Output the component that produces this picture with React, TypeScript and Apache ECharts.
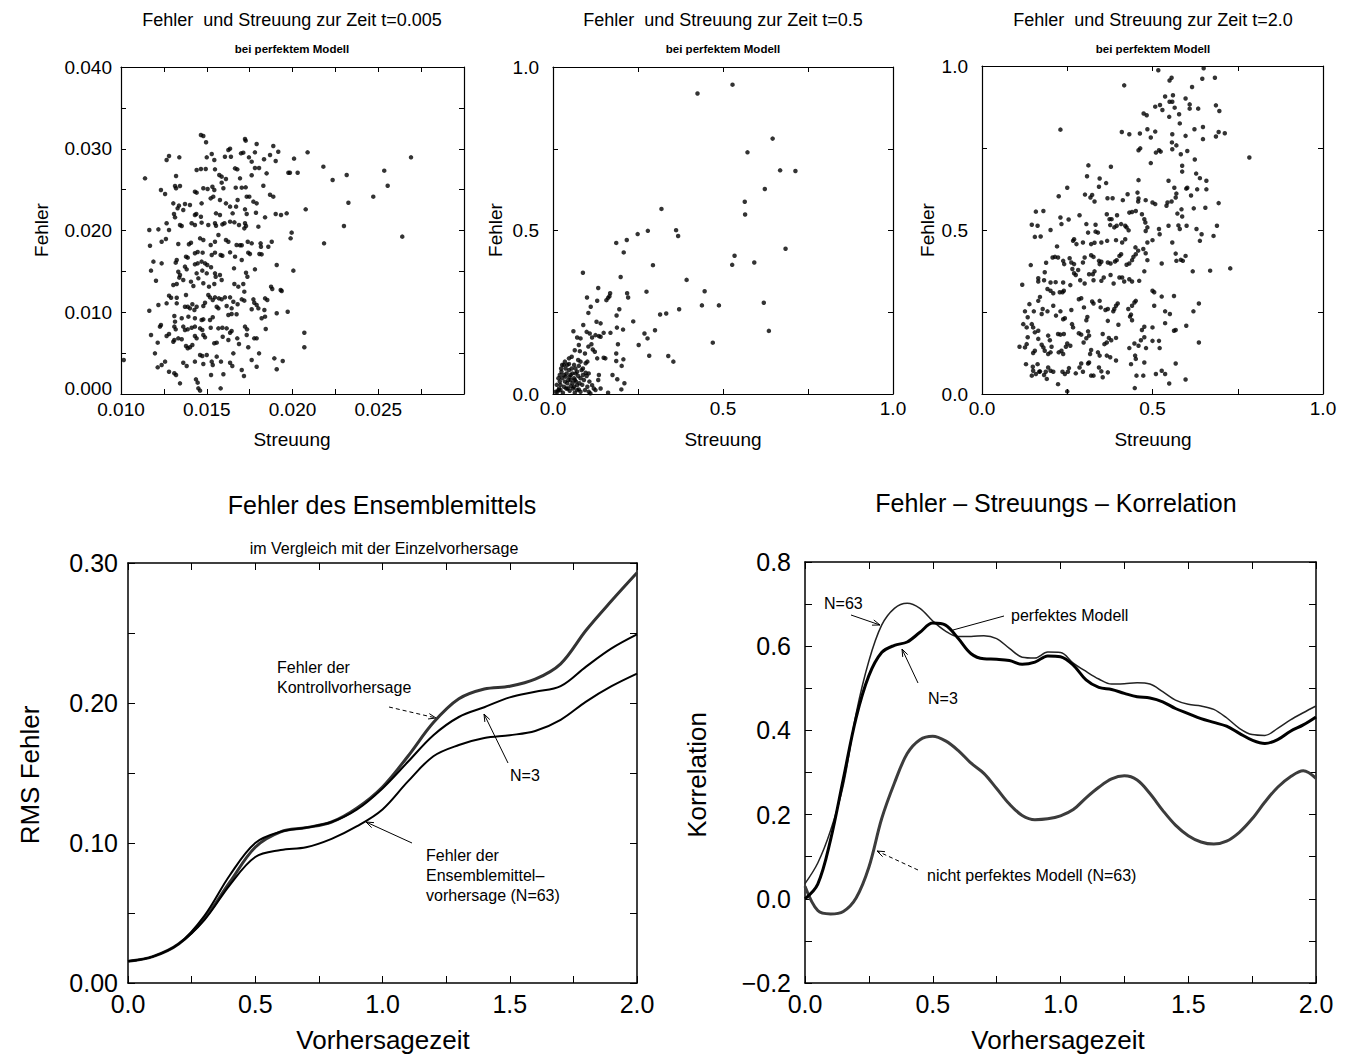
import React, { useEffect, useRef } from "react";
import * as echarts from "echarts";

// ---------- Data: scatter panels (Streuung, Fehler) ----------
const P1_POINTS: number[][] = [
  [0.01466,0.03168],[0.0148,0.03156],[0.01496,0.03079],[0.01723,0.03119],[0.01727,0.03099],[0.01791,0.03058],[0.01888,0.03034],
  [0.01626,0.02985],[0.01636,0.03001],[0.01917,0.02964],[0.02088,0.02956],[0.01529,0.02936],[0.015,0.02895],[0.017,0.02944],
  [0.01713,0.02952],[0.01781,0.02956],[0.01606,0.02903],[0.01746,0.02895],[0.01869,0.02924],[0.02691,0.02895],[0.0128,0.02911],
  [0.01266,0.02862],[0.0134,0.02895],[0.01544,0.02862],[0.01641,0.02903],[0.01834,0.02871],[0.01902,0.0285],[0.02009,0.02879],
  [0.01762,0.02842],[0.0218,0.02781],[0.01976,0.02707],[0.01985,0.02707],[0.0203,0.02707],[0.02535,0.02732],[0.01441,0.0274],
  [0.01466,0.02752],[0.01494,0.02752],[0.01548,0.02748],[0.01665,0.0276],[0.01678,0.02748],[0.01781,0.02765],[0.01805,0.02765],
  [0.01849,0.02699],[0.0114,0.02638],[0.01321,0.02667],[0.01573,0.02679],[0.01587,0.02659],[0.01612,0.0263],[0.01694,0.02638],
  [0.01762,0.02675],[0.02316,0.02679],[0.02234,0.02618],[0.02555,0.02548],[0.01315,0.02544],[0.01344,0.02544],[0.01321,0.02516],
  [0.01587,0.02585],[0.01533,0.02536],[0.01544,0.02495],[0.01431,0.02475],[0.0148,0.02516],[0.01505,0.02508],[0.01233,0.02495],
  [0.01257,0.02446],[0.01597,0.02516],[0.01669,0.02524],[0.01704,0.02524],[0.01727,0.02528],[0.0183,0.02548],[0.01869,0.02438],
  [0.01888,0.02414],[0.02471,0.02414],[0.02326,0.0234],[0.02077,0.02259],[0.01305,0.02332],[0.0133,0.02271],[0.01363,0.02251],
  [0.01373,0.02324],[0.01338,0.02304],[0.01402,0.02312],[0.01441,0.02463],[0.0147,0.02332],[0.01523,0.02393],[0.01538,0.02414],
  [0.01577,0.02373],[0.01612,0.02332],[0.01636,0.02292],[0.01671,0.02292],[0.0168,0.02373],[0.01733,0.02414],[0.01748,0.02414],
  [0.01772,0.02353],[0.01791,0.02332],[0.01554,0.0221],[0.01577,0.0219],[0.01466,0.02169],[0.01431,0.0219],[0.01651,0.0221],
  [0.01723,0.02259],[0.01733,0.02202],[0.01787,0.02218],[0.0184,0.02161],[0.01902,0.02202],[0.01933,0.0219],[0.01966,0.0221],
  [0.01309,0.02202],[0.01315,0.02161],[0.01266,0.02088],[0.01344,0.02067],[0.01354,0.02055],[0.01412,0.02088],[0.01431,0.02067],
  [0.01439,0.02202],[0.0147,0.02096],[0.01509,0.02067],[0.01548,0.02088],[0.01554,0.02059],[0.01591,0.02075],[0.01603,0.02088],
  [0.01636,0.02108],[0.01661,0.021],[0.01688,0.02067],[0.01723,0.02088],[0.01729,0.02055],[0.01719,0.02026],[0.01801,0.02047],
  [0.01995,0.01974],[0.01989,0.01904],[0.023,0.02055],[0.0264,0.01925],[0.02184,0.01843],[0.01165,0.02006],[0.01218,0.02014],
  [0.0128,0.02006],[0.01169,0.01814],[0.01237,0.01863],[0.01262,0.01896],[0.01334,0.01835],[0.01396,0.01831],[0.01408,0.01851],
  [0.01461,0.01904],[0.0148,0.01884],[0.01523,0.01823],[0.01548,0.01863],[0.01568,0.01945],[0.01612,0.01884],[0.01626,0.01863],
  [0.01674,0.01823],[0.01694,0.01819],[0.01704,0.01819],[0.01739,0.01863],[0.01762,0.01843],[0.01814,0.01843],[0.01816,0.01802],
  [0.01859,0.01802],[0.01879,0.01863],[0.01189,0.01619],[0.01175,0.01509],[0.01237,0.01598],[0.01325,0.01639],[0.01319,0.01607],
  [0.01379,0.0168],[0.01389,0.01668],[0.01431,0.01721],[0.01447,0.01737],[0.01476,0.01729],[0.01529,0.017],[0.01548,0.01729],
  [0.01581,0.017],[0.01591,0.01692],[0.01636,0.01733],[0.01665,0.0168],[0.01704,0.01639],[0.01742,0.01729],[0.01752,0.01713],
  [0.01807,0.01713],[0.0182,0.01708],[0.01908,0.01578],[0.02005,0.01509],[0.01781,0.01525],[0.01204,0.01386],[0.01334,0.01496],
  [0.01344,0.01456],[0.0134,0.01423],[0.01363,0.01394],[0.01383,0.01525],[0.01373,0.01558],[0.01431,0.01586],[0.01447,0.01598],
  [0.0147,0.01619],[0.0149,0.01598],[0.01503,0.01578],[0.01441,0.01476],[0.01451,0.01415],[0.01474,0.01509],[0.015,0.01476],
  [0.01525,0.0155],[0.01548,0.01476],[0.01552,0.01435],[0.01577,0.01456],[0.01587,0.01394],[0.01659,0.01537],[0.01729,0.01484],
  [0.01737,0.01435],[0.01305,0.01333],[0.01325,0.01346],[0.01408,0.01374],[0.01422,0.01321],[0.0148,0.01354],[0.01513,0.01313],
  [0.01544,0.01346],[0.01661,0.01346],[0.01684,0.01313],[0.01713,0.01346],[0.01719,0.01252],[0.01875,0.01313],[0.01882,0.01284],
  [0.01931,0.01272],[0.01937,0.0126],[0.0128,0.01203],[0.01292,0.01178],[0.01325,0.01178],[0.01379,0.01211],[0.01266,0.01109],
  [0.01325,0.01109],[0.01218,0.01089],[0.01509,0.01211],[0.01519,0.01182],[0.01535,0.0115],[0.01548,0.01182],[0.01571,0.0117],
  [0.01587,0.01158],[0.01606,0.01182],[0.01636,0.01182],[0.01655,0.01129],[0.01704,0.01158],[0.01719,0.01142],[0.01772,0.01158],
  [0.01777,0.01117],[0.0184,0.0117],[0.01853,0.0115],[0.01373,0.01068],[0.01389,0.01068],[0.01402,0.01048],[0.01416,0.01097],
  [0.01428,0.01028],[0.01441,0.01068],[0.0148,0.01076],[0.0149,0.01117],[0.01558,0.01068],[0.01568,0.01048],[0.01616,0.01076],
  [0.01645,0.01048],[0.0168,0.01097],[0.01791,0.01089],[0.01801,0.01048],[0.01762,0.01036],[0.01836,0.01028],[0.01165,0.01019],
  [0.01972,0.01007],[0.01908,0.00987],[0.01311,0.00954],[0.01315,0.00885],[0.01354,0.00926],[0.01393,0.00946],[0.01431,0.00926],
  [0.0147,0.00905],[0.0148,0.00913],[0.01519,0.00905],[0.01535,0.00938],[0.01626,0.00966],[0.01645,0.00979],[0.01674,0.00975],
  [0.0182,0.00926],[0.0184,0.00946],[0.01233,0.00844],[0.01227,0.00824],[0.01311,0.00824],[0.01319,0.00791],[0.01363,0.00824],
  [0.01373,0.00783],[0.01389,0.00791],[0.01412,0.00811],[0.01431,0.00824],[0.01461,0.00803],[0.01474,0.00783],[0.01523,0.00811],
  [0.01568,0.00803],[0.01591,0.00811],[0.01616,0.00803],[0.01636,0.0075],[0.01645,0.00771],[0.01723,0.00824],[0.01735,0.00791],
  [0.01844,0.00795],[0.02069,0.0075],[0.01175,0.00722],[0.01214,0.00628],[0.01266,0.00709],[0.0128,0.00734],[0.01305,0.0064],
  [0.01311,0.00661],[0.01334,0.00681],[0.01354,0.00669],[0.01379,0.00587],[0.01389,0.00559],[0.01402,0.00571],[0.01416,0.00599],
  [0.01431,0.00709],[0.01441,0.00681],[0.0148,0.00722],[0.0149,0.00693],[0.01544,0.0062],[0.01558,0.00628],[0.01593,0.00701],
  [0.01626,0.00661],[0.01678,0.00681],[0.01688,0.00612],[0.01733,0.00722],[0.01742,0.00571],[0.01777,0.00681],[0.01791,0.00681],
  [0.02069,0.00571],[0.01198,0.00497],[0.01214,0.00326],[0.01237,0.00355],[0.01257,0.00396],[0.0128,0.00273],[0.01311,0.00253],
  [0.01321,0.00232],[0.01363,0.00383],[0.01383,0.00343],[0.01431,0.00396],[0.01461,0.00477],[0.01474,0.00465],[0.0148,0.00367],
  [0.015,0.00477],[0.01529,0.00396],[0.01535,0.00355],[0.01558,0.00457],[0.01583,0.00396],[0.01597,0.00241],[0.01636,0.00383],
  [0.01649,0.00343],[0.01655,0.00497],[0.01704,0.00294],[0.01717,0.0022],[0.01762,0.00416],[0.01791,0.00334],[0.01805,0.00497],
  [0.01894,0.00436],[0.01908,0.00302],[0.01943,0.00404],[0.01016,0.00416],[0.01344,0.0013],[0.01437,0.00179],[0.01447,0.00139],
  [0.01451,0.00069],[0.01461,0.00041],[0.01525,0.00232],[0.01581,0.00069]
];

const P2_POINTS: number[][] = [
  [0.528,0.946],[0.425,0.919],[0.646,0.781],[0.572,0.739],[0.668,0.684],[0.713,0.682],[0.623,0.627],[0.564,0.588],[0.565,0.549],
  [0.319,0.566],[0.362,0.501],[0.368,0.483],[0.279,0.499],[0.249,0.489],[0.186,0.462],[0.217,0.471],[0.208,0.433],[0.684,0.444],
  [0.534,0.423],[0.527,0.395],[0.592,0.402],[0.294,0.394],[0.088,0.371],[0.199,0.358],[0.393,0.349],[0.133,0.324],[0.168,0.308],
  [0.166,0.299],[0.1,0.295],[0.157,0.287],[0.162,0.294],[0.13,0.285],[0.218,0.308],[0.221,0.295],[0.275,0.313],[0.446,0.314],
  [0.438,0.271],[0.488,0.271],[0.62,0.279],[0.111,0.267],[0.104,0.248],[0.195,0.259],[0.187,0.24],[0.371,0.259],[0.315,0.243],
  [0.333,0.246],[0.236,0.222],[0.128,0.221],[0.14,0.216],[0.089,0.211],[0.188,0.203],[0.206,0.197],[0.3,0.195],[0.269,0.185],
  [0.278,0.17],[0.635,0.193],[0.06,0.192],[0.071,0.173],[0.081,0.17],[0.099,0.19],[0.108,0.185],[0.115,0.173],[0.125,0.18],
  [0.135,0.177],[0.14,0.175],[0.149,0.187],[0.169,0.187],[0.191,0.152],[0.252,0.15],[0.47,0.157],[0.076,0.15],[0.104,0.145],
  [0.113,0.152],[0.064,0.134],[0.079,0.131],[0.094,0.124],[0.117,0.136],[0.123,0.129],[0.149,0.111],[0.154,0.109],[0.186,0.124],
  [0.283,0.117],[0.339,0.116],[0.354,0.099],[0.186,0.101],[0.207,0.106],[0.202,0.086],[0.047,0.109],[0.055,0.114],[0.074,0.104],
  [0.081,0.099],[0.096,0.094],[0.101,0.099],[0.13,0.109],[0.175,0.058],[0.189,0.045],[0.21,0.033],[0.201,0.014],[0.162,0.004],
  [0.135,0.058],[0.133,0.043],[0.107,0.038],[0.115,0.027],[0.12,0.017],[0.125,0.012],[0.14,0.017],[0.088,0.078],[0.096,0.065],
  [0.105,0.063],[0.081,0.048],[0.091,0.043],[0.099,0.055],[0.071,0.027],[0.076,0.014],
  [0.013,0.007],[0.018,0.017],[0.022,0.028],[0.02,0.038],[0.027,0.048],[0.032,0.058],[0.025,0.068],[0.037,0.078],[0.042,0.089],
  [0.035,0.099],[0.047,0.073],[0.052,0.058],[0.045,0.043],[0.057,0.033],[0.062,0.048],[0.066,0.063],[0.039,0.017],[0.049,0.01],
  [0.059,0.017],[0.064,0.004],[0.029,0.004],[0.016,0.012],[0.022,0.012],[0.032,0.022],[0.042,0.033],[0.052,0.024],[0.068,0.038],
  [0.074,0.055],[0.037,0.053],[0.027,0.089],[0.02,0.058],[0.016,0.048],[0.011,0.028],[0.008,0.007],[0.024,0.078],[0.032,0.089],
  [0.04,0.063],[0.047,0.092],[0.055,0.078],[0.062,0.089],[0.066,0.078],[0.071,0.068],[0.076,0.086],[0.084,0.073],[0.088,0.058],
  [0.057,0.063],[0.052,0.043],[0.062,0.022],[0.071,0.012],[0.081,0.007],[0.086,0.028],[0.094,0.012],[0.101,0.022],[0.105,0.007],
  [0.11,0.002],[0.035,0.038],[0.043,0.017],[0.049,0.053],[0.064,0.043],[0.078,0.033]
];

const P3_POINTS: number[][] = [
  [0.517,0.987],[0.65,0.993],[0.556,0.964],[0.55,0.956],[0.417,0.941],[0.646,0.961],[0.683,0.964],[0.616,0.936],[0.537,0.907],
  [0.56,0.911],[0.55,0.891],[0.558,0.891],[0.597,0.901],[0.508,0.876],[0.522,0.881],[0.529,0.866],[0.565,0.873],[0.609,0.883],
  [0.609,0.87],[0.634,0.87],[0.686,0.88],[0.696,0.863],[0.549,0.845],[0.578,0.853],[0.474,0.855],[0.483,0.85],[0.58,0.825],
  [0.23,0.806],[0.41,0.799],[0.432,0.792],[0.463,0.794],[0.485,0.807],[0.495,0.782],[0.508,0.8],[0.558,0.792],[0.597,0.787],
  [0.623,0.807],[0.648,0.814],[0.648,0.777],[0.686,0.785],[0.694,0.799],[0.712,0.795],[0.557,0.767],[0.558,0.746],[0.57,0.758],
  [0.583,0.731],[0.602,0.741],[0.459,0.743],[0.464,0.749],[0.51,0.736],[0.519,0.743],[0.524,0.739],[0.624,0.715],[0.784,0.721],
  [0.495,0.704],[0.587,0.696],[0.587,0.678],[0.628,0.672],[0.639,0.658],[0.658,0.65],[0.312,0.697],[0.378,0.693],[0.308,0.664],
  [0.345,0.657],[0.343,0.632],[0.364,0.643],[0.459,0.652],[0.547,0.65],[0.564,0.629],[0.57,0.611],[0.568,0.599],[0.599,0.626],
  [0.602,0.629],[0.631,0.624],[0.658,0.624],[0.613,0.605],[0.25,0.629],[0.225,0.603],[0.302,0.608],[0.318,0.599],[0.323,0.607],
  [0.33,0.587],[0.368,0.597],[0.383,0.597],[0.413,0.591],[0.427,0.609],[0.456,0.614],[0.459,0.596],[0.458,0.587],[0.48,0.591],
  [0.5,0.584],[0.508,0.579],[0.544,0.584],[0.541,0.574],[0.556,0.587],[0.585,0.563],[0.573,0.55],[0.587,0.541],[0.621,0.566],
  [0.655,0.568],[0.694,0.582],[0.158,0.556],[0.18,0.558],[0.23,0.538],[0.233,0.518],[0.254,0.532],[0.286,0.545],[0.366,0.548],
  [0.374,0.533],[0.376,0.515],[0.396,0.545],[0.408,0.518],[0.432,0.553],[0.44,0.555],[0.451,0.558],[0.469,0.548],[0.476,0.533],
  [0.479,0.523],[0.333,0.516],[0.333,0.495],[0.34,0.492],[0.306,0.518],[0.311,0.492],[0.38,0.533],[0.388,0.508],[0.395,0.513],
  [0.42,0.513],[0.424,0.508],[0.43,0.499],[0.48,0.497],[0.485,0.508],[0.519,0.503],[0.521,0.487],[0.547,0.513],[0.576,0.514],
  [0.58,0.503],[0.558,0.462],[0.6,0.513],[0.629,0.503],[0.644,0.487],[0.639,0.467],[0.679,0.482],[0.689,0.513],[0.146,0.516],
  [0.163,0.513],[0.155,0.479],[0.172,0.48],[0.201,0.5],[0.27,0.472],[0.267,0.467],[0.277,0.457],[0.296,0.462],[0.32,0.457],
  [0.33,0.461],[0.35,0.462],[0.367,0.467],[0.393,0.469],[0.42,0.472],[0.411,0.462],[0.45,0.447],[0.458,0.437],[0.473,0.442],
  [0.485,0.462],[0.5,0.469],[0.48,0.429],[0.527,0.398],[0.568,0.428],[0.57,0.406],[0.583,0.409],[0.589,0.406],[0.597,0.421],
  [0.618,0.374],[0.669,0.376],[0.728,0.383],[0.118,0.333],[0.143,0.393],[0.188,0.4],[0.207,0.416],[0.214,0.418],[0.22,0.45],
  [0.223,0.416],[0.238,0.406],[0.241,0.396],[0.257,0.414],[0.262,0.401],[0.27,0.396],[0.265,0.381],[0.282,0.378],[0.296,0.401],
  [0.301,0.416],[0.32,0.423],[0.327,0.418],[0.343,0.406],[0.345,0.396],[0.35,0.403],[0.369,0.401],[0.377,0.398],[0.39,0.404],
  [0.395,0.408],[0.403,0.421],[0.408,0.426],[0.424,0.394],[0.432,0.398],[0.44,0.408],[0.444,0.418],[0.451,0.426],[0.476,0.374],
  [0.485,0.408],[0.165,0.353],[0.165,0.343],[0.184,0.371],[0.182,0.347],[0.201,0.34],[0.216,0.341],[0.192,0.32],[0.238,0.34],
  [0.24,0.315],[0.259,0.332],[0.27,0.368],[0.275,0.363],[0.288,0.347],[0.301,0.337],[0.314,0.365],[0.325,0.365],[0.327,0.347],
  [0.33,0.374],[0.35,0.345],[0.357,0.355],[0.377,0.363],[0.386,0.337],[0.403,0.355],[0.411,0.355],[0.417,0.343],[0.432,0.35],
  [0.44,0.343],[0.461,0.345],[0.5,0.315],[0.505,0.31],[0.527,0.297],[0.563,0.299],[0.636,0.276],[0.62,0.252],[0.201,0.315],
  [0.209,0.307],[0.228,0.31],[0.236,0.31],[0.139,0.274],[0.165,0.284],[0.17,0.296],[0.152,0.252],[0.134,0.234],[0.126,0.252],
  [0.178,0.259],[0.175,0.244],[0.192,0.252],[0.209,0.269],[0.217,0.239],[0.23,0.252],[0.243,0.231],[0.238,0.228],[0.262,0.256],
  [0.284,0.289],[0.291,0.292],[0.299,0.264],[0.306,0.225],[0.309,0.235],[0.323,0.282],[0.327,0.276],[0.345,0.284],[0.348,0.264],
  [0.362,0.256],[0.369,0.259],[0.393,0.269],[0.398,0.276],[0.385,0.252],[0.388,0.259],[0.429,0.259],[0.434,0.236],[0.44,0.269],
  [0.447,0.279],[0.451,0.284],[0.505,0.269],[0.537,0.252],[0.369,0.223],[0.4,0.211],[0.437,0.242],[0.44,0.225],[0.469,0.195],
  [0.476,0.205],[0.5,0.203],[0.537,0.216],[0.551,0.244],[0.563,0.193],[0.568,0.195],[0.599,0.208],[0.636,0.157],[0.121,0.213],
  [0.131,0.203],[0.146,0.213],[0.15,0.203],[0.155,0.188],[0.165,0.193],[0.134,0.173],[0.131,0.152],[0.11,0.144],[0.126,0.142],
  [0.165,0.168],[0.175,0.15],[0.18,0.142],[0.184,0.132],[0.194,0.122],[0.201,0.127],[0.204,0.144],[0.15,0.125],[0.155,0.132],
  [0.194,0.178],[0.199,0.164],[0.223,0.183],[0.23,0.181],[0.24,0.183],[0.225,0.127],[0.233,0.132],[0.238,0.122],[0.246,0.144],
  [0.25,0.154],[0.259,0.147],[0.267,0.203],[0.264,0.213],[0.284,0.185],[0.291,0.181],[0.311,0.191],[0.314,0.178],[0.298,0.157],
  [0.306,0.17],[0.32,0.134],[0.317,0.122],[0.34,0.127],[0.345,0.117],[0.354,0.183],[0.359,0.152],[0.366,0.157],[0.372,0.171],
  [0.379,0.164],[0.393,0.171],[0.366,0.117],[0.376,0.112],[0.432,0.14],[0.447,0.154],[0.459,0.147],[0.449,0.117],[0.451,0.107],
  [0.466,0.164],[0.476,0.173],[0.481,0.14],[0.5,0.162],[0.519,0.162],[0.521,0.14],[0.476,0.096],[0.437,0.091],[0.129,0.091],
  [0.149,0.083],[0.15,0.071],[0.146,0.056],[0.163,0.091],[0.17,0.069],[0.158,0.061],[0.168,0.068],[0.182,0.058],[0.187,0.068],
  [0.194,0.081],[0.201,0.071],[0.209,0.068],[0.19,0.046],[0.223,0.03],[0.236,0.068],[0.243,0.061],[0.252,0.068],[0.255,0.079],
  [0.275,0.063],[0.286,0.081],[0.291,0.093],[0.296,0.068],[0.314,0.096],[0.311,0.093],[0.32,0.056],[0.327,0.056],[0.343,0.081],
  [0.35,0.069],[0.354,0.051],[0.369,0.066],[0.393,0.102],[0.453,0.056],[0.473,0.056],[0.51,0.061],[0.527,0.071],[0.537,0.061],
  [0.549,0.032],[0.568,0.093],[0.597,0.044],[0.25,0.008],[0.448,0.018]
];

// ---------- Data: RMS error vs forecast time ----------
const RMS_TIME = [0.0,0.1,0.2,0.3,0.4,0.5,0.6,0.7,0.8,0.9,1.0,1.1,1.2,1.3,1.4,1.5,1.6,1.7,1.8,1.9,2.0];
const RMS_KONTROLL = [0.0155,0.019,0.028,0.046,0.072,0.097,0.108,0.111,0.115,0.125,0.140,0.162,0.186,0.203,0.210,0.212,0.217,0.228,0.252,0.273,0.293];
const RMS_N3 = [0.0155,0.019,0.028,0.048,0.077,0.100,0.108,0.111,0.115,0.124,0.139,0.158,0.177,0.190,0.197,0.204,0.208,0.212,0.226,0.239,0.249];
const RMS_ENSEMBLE = [0.0155,0.019,0.028,0.045,0.070,0.090,0.095,0.097,0.103,0.112,0.124,0.144,0.162,0.170,0.175,0.177,0.180,0.188,0.201,0.212,0.221];

// ---------- Data: error-spread correlation vs forecast time ----------
const KORR_TIME = [0.0,0.05,0.1,0.15,0.2,0.25,0.3,0.35,0.4,0.45,0.5,0.55,0.6,0.65,0.7,0.75,0.8,0.85,0.9,0.95,1.0,
  1.05,1.1,1.15,1.2,1.25,1.3,1.35,1.4,1.45,1.5,1.55,1.6,1.65,1.7,1.75,1.8,1.85,1.9,1.95,2.0];
const KORR_N63 = [0.036,0.085,0.162,0.270,0.440,0.565,0.650,0.690,0.702,0.690,0.660,0.636,0.623,0.623,0.625,0.618,0.595,0.574,0.572,0.586,0.585,
  0.560,0.540,0.522,0.510,0.511,0.513,0.510,0.492,0.472,0.462,0.458,0.450,0.430,0.405,0.390,0.388,0.405,0.425,0.442,0.458];
const KORR_N3 = [0.000,0.035,0.140,0.285,0.430,0.530,0.585,0.602,0.610,0.633,0.655,0.650,0.618,0.582,0.570,0.569,0.566,0.557,0.562,0.577,0.575,
  0.555,0.520,0.502,0.497,0.488,0.480,0.477,0.468,0.452,0.440,0.428,0.419,0.410,0.393,0.377,0.369,0.378,0.398,0.413,0.432];
const KORR_NICHT = [0.030,-0.028,-0.036,-0.030,0.002,0.075,0.190,0.275,0.345,0.378,0.386,0.375,0.352,0.322,0.298,0.262,0.225,0.198,0.188,0.190,0.197,
  0.212,0.240,0.265,0.285,0.292,0.282,0.250,0.210,0.175,0.150,0.135,0.130,0.137,0.158,0.190,0.230,0.265,0.290,0.304,0.286];

const FONT = "'Liberation Sans', Arial, Helvetica, sans-serif";

const zip = (t: number[], v: number[]) => t.map((x, i) => [x, v[i]]);

type AxisOpts = {
  grid: number; min: number; max: number; interval: number;
  fmt: (v: number) => string; fontSize: number; margin: number; lw: number; tick: number; rich?: any;
};

function makeAxis(o: AxisOpts, pos: string, show: boolean) {
  return {
    type: "value", gridIndex: o.grid, position: pos, min: o.min, max: o.max, interval: o.interval,
    axisLine: { show: true, onZero: false, lineStyle: { color: "#000", width: o.lw } },
    axisTick: { show: true, inside: true, length: o.tick, lineStyle: { color: "#000", width: 1 } },
    axisLabel: {
      show, formatter: o.fmt, fontSize: o.fontSize, fontFamily: FONT, color: "#000", margin: o.margin,
      ...(o.rich ? { rich: o.rich } : {}),
    },
    splitLine: { show: false },
  };
}
const xAxes = (o: AxisOpts) => [makeAxis(o, "bottom", true), makeAxis(o, "top", false)];
const yAxes = (o: AxisOpts) => [makeAxis(o, "left", true), makeAxis(o, "right", false)];

const every = (step: number, k: number, digits: number, last?: number, zeroTag?: string) => (v: number) => {
  const n = Math.round(v / step);
  if (n % k !== 0) return "";
  if (last !== undefined && v > last) return "";
  const s = (n * step).toFixed(digits);
  const out = s.startsWith("-") ? "\u2212" + s.slice(1) : s;
  if (zeroTag && n === 0) return `{${zeroTag}|${out}}`;
  return out;
};

function text(x: number, y: number, t: string, size: number, align = "center", rot = 0, weight = "normal") {
  return {
    type: "text", x, y, rotation: rot, silent: true,
    style: {
      text: t, fill: "#000", font: `${weight} ${size}px ${FONT}`,
      align, verticalAlign: "middle", textAlign: align, textVerticalAlign: "middle",
    },
  };
}
function arrow(x1: number, y1: number, x2: number, y2: number, dashed = false, head = true) {
  const a = Math.atan2(y2 - y1, x2 - x1);
  const s = 8;
  const children: any[] = [
    { type: "line", shape: { x1, y1, x2, y2 }, style: { stroke: "#000", lineWidth: 1, lineDash: dashed ? [4, 3] : null } },
  ];
  if (head) {
    children.push({
      type: "polyline",
      shape: { points: [[x2 - s * Math.cos(a - 0.35), y2 - s * Math.sin(a - 0.35)], [x2, y2], [x2 - s * Math.cos(a + 0.35), y2 - s * Math.sin(a + 0.35)]] },
      style: { stroke: "#000", lineWidth: 1, fill: null },
    });
  }
  return { type: "group", silent: true, children };
}

function buildOption() {
  const top = { fontSize: 19, lw: 1.2, tick: 5 };
  const bot = { fontSize: 25, lw: 1.5, tick: 7 };
  const ax: any[] = [];
  const ay: any[] = [];
  const zeroRich = { z: { fontSize: 19, fontFamily: FONT, color: "#000", lineHeight: 19, padding: [0, 0, 12, 0] } };
  ax.push(...xAxes({ grid: 0, min: 0.010, max: 0.030, interval: 0.0025, fmt: every(0.0025, 2, 3, 0.0295), margin: 6, ...top }));
  ay.push(...yAxes({ grid: 0, min: 0, max: 0.040, interval: 0.005, fmt: every(0.005, 2, 3, undefined, "z"), margin: 9, rich: zeroRich, ...top }));
  ax.push(...xAxes({ grid: 1, min: 0, max: 1, interval: 0.25, fmt: every(0.25, 2, 1), margin: 5, ...top }));
  ay.push(...yAxes({ grid: 1, min: 0, max: 1, interval: 0.25, fmt: every(0.25, 2, 1), margin: 14, ...top }));
  ax.push(...xAxes({ grid: 2, min: 0, max: 1, interval: 0.25, fmt: every(0.25, 2, 1), margin: 5, ...top }));
  ay.push(...yAxes({ grid: 2, min: 0, max: 1, interval: 0.25, fmt: every(0.25, 2, 1), margin: 14, ...top }));
  ax.push(...xAxes({ grid: 3, min: 0, max: 2, interval: 0.25, fmt: every(0.25, 2, 1), margin: 8, ...bot }));
  ay.push(...yAxes({ grid: 3, min: 0, max: 0.30, interval: 0.05, fmt: every(0.05, 2, 2), margin: 10, ...bot }));
  ax.push(...xAxes({ grid: 4, min: 0, max: 2, interval: 0.25, fmt: every(0.25, 2, 1), margin: 8, ...bot }));
  ay.push(...yAxes({ grid: 4, min: -0.2, max: 0.8, interval: 0.1, fmt: every(0.1, 2, 1), margin: 14, ...bot }));

  const grids = [
    { left: 121, top: 67, width: 343, height: 327 },
    { left: 553, top: 67, width: 340, height: 327 },
    { left: 982, top: 66, width: 341, height: 328 },
    { left: 128, top: 563, width: 509, height: 420 },
    { left: 805, top: 562, width: 511, height: 421 },
  ].map((g) => ({ ...g, containLabel: false, outerBoundsMode: "none" }));

  const scatter = (i: number, data: number[][]) => ({
    type: "scatter", xAxisIndex: 2 * i, yAxisIndex: 2 * i, data, symbolSize: 4.5, silent: true,
    itemStyle: { color: "#000" },
  });
  const line = (i: number, t: number[], v: number[], color: string, width: number) => ({
    type: "line", xAxisIndex: 2 * i, yAxisIndex: 2 * i, data: zip(t, v), smooth: 0.35, symbol: "none",
    showSymbol: false, silent: true, lineStyle: { color, width }, clip: true,
  });

  const graphic: any[] = [
    text(292, 20, "Fehler  und Streuung zur Zeit t=0.005", 18),
    text(292, 49, "bei perfektem Modell", 11.5, "center", 0, "bold"),
    text(723, 20, "Fehler  und Streuung zur Zeit t=0.5", 18),
    text(723, 49, "bei perfektem Modell", 11.5, "center", 0, "bold"),
    text(1153, 20, "Fehler  und Streuung zur Zeit t=2.0", 18),
    text(1153, 49, "bei perfektem Modell", 11.5, "center", 0, "bold"),
    text(41, 230, "Fehler", 19, "center", Math.PI / 2),
    text(495, 230, "Fehler", 19, "center", Math.PI / 2),
    text(927, 230, "Fehler", 19, "center", Math.PI / 2),
    text(292, 439, "Streuung", 19),
    text(723, 439, "Streuung", 19),
    text(1153, 439, "Streuung", 19),
    text(382, 505, "Fehler des Ensemblemittels", 25),
    text(384, 548, "im Vergleich mit der Einzelvorhersage", 16),
    text(30, 775, "RMS Fehler", 26, "center", Math.PI / 2),
    text(383, 1040, "Vorhersagezeit", 26),
    text(277, 667, "Fehler der", 16, "left"),
    text(277, 687, "Kontrollvorhersage", 16, "left"),
    arrow(389, 707, 436, 718, true),
    text(510, 775, "N=3", 16, "left"),
    arrow(508, 763, 484, 714),
    text(426, 855, "Fehler der", 16, "left"),
    text(426, 875, "Ensemblemittel\u2013", 16, "left"),
    text(426, 895, "vorhersage (N=63)", 16, "left"),
    arrow(412, 843, 366, 822),
    text(1056, 503, "Fehler \u2013 Streuungs \u2013 Korrelation", 25),
    text(697, 775, "Korrelation", 26, "center", Math.PI / 2),
    text(1058, 1040, "Vorhersagezeit", 26),
    text(824, 603, "N=63", 16, "left"),
    arrow(851, 615, 880, 625),
    text(1011, 615, "perfektes Modell", 16, "left"),
    arrow(1004, 616, 953, 630, false, false),
    text(928, 698, "N=3", 16, "left"),
    arrow(918, 683, 902, 649),
    text(927, 875, "nicht perfektes Modell (N=63)", 16, "left"),
    arrow(918, 870, 877, 851, true),
  ];

  return {
    animation: false,
    backgroundColor: "#fff",
    textStyle: { fontFamily: FONT },
    grid: grids,
    xAxis: ax,
    yAxis: ay,
    graphic,
    series: [
      scatter(0, P1_POINTS),
      scatter(1, P2_POINTS),
      scatter(2, P3_POINTS),
      line(3, RMS_TIME, RMS_KONTROLL, "#333", 3),
      line(3, RMS_TIME, RMS_N3, "#000", 2),
      line(3, RMS_TIME, RMS_ENSEMBLE, "#000", 2),
      line(4, KORR_TIME, KORR_NICHT, "#3c3c3c", 3),
      line(4, KORR_TIME, KORR_N63, "#222", 1.5),
      line(4, KORR_TIME, KORR_N3, "#000", 3),
    ],
  };
}

export default function App() {
  const ref = useRef<HTMLDivElement | null>(null);
  useEffect(() => {
    if (!ref.current) return;
    const chart = echarts.init(ref.current, undefined, { renderer: "svg" });
    chart.setOption(buildOption() as any);
    return () => chart.dispose();
  }, []);
  return (
    <div
      ref={ref}
      style={{ position: "absolute", left: 0, top: 0, width: 1356, height: 1058, background: "#fff" }}
    />
  );
}
